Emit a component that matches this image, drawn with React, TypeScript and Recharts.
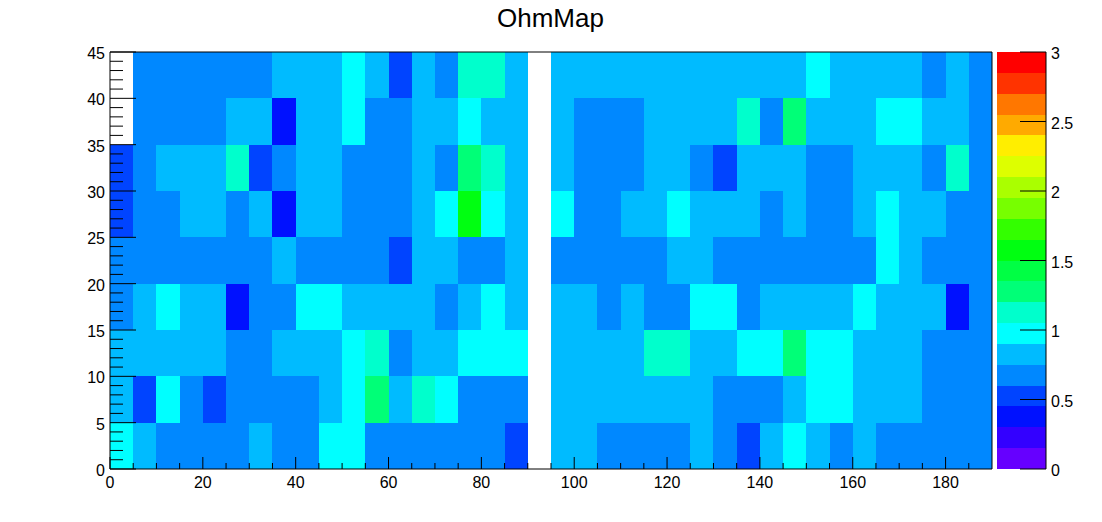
import { BarChart, Bar, Cell, XAxis, YAxis, ReferenceLine } from "recharts";

// palette colours, bottom to top of the z scale (20 contours between 0 and 3)
const PALETTE = [
  "#6600ff", "#3300ff", "#0011ff", "#0044ff", "#0088ff",
  "#00bbff", "#00ffff", "#00ffcc", "#00ff77", "#00ff44",
  "#00ff11", "#33ff00", "#77ff00", "#aaff00", "#ddff00",
  "#ffee00", "#ffaa00", "#ff7700", "#ff3300", "#ff0000",
];
const Z_MAX = 3;

const xBins = Array.from({ length: 38 }, (_, i) => i * 5);
const yLow = [0, 5, 10, 15, 20, 25, 30, 35, 40];
const xTicks = Array.from({ length: 38 }, (_, i) => i * 5);
const yTicks = Array.from({ length: 46 }, (_, i) => i);
const zTicks = [0, 0.5, 1, 1.5, 2, 2.5, 3];

// ohm values per y bin, one entry per x bin. null = empty bin
const y0 = [0.97, 0.82, 0.68, 0.68, 0.68, 0.68, 0.82, 0.68, 0.68, 0.97, 0.97, 0.68, 0.68, 0.68, 0.68, 0.68, 0.68, 0.52, null, 0.82, 0.82, 0.68, 0.68, 0.68, 0.68, 0.82, 0.68, 0.52, 0.82, 0.97, 0.82, 0.68, 0.82, 0.68, 0.68, 0.68, 0.68, 0.68];
const y5 = [0.82, 0.52, 0.97, 0.68, 0.52, 0.68, 0.68, 0.68, 0.68, 0.82, 0.97, 1.28, 0.82, 1.12, 0.97, 0.68, 0.68, 0.68, null, 0.82, 0.82, 0.82, 0.82, 0.82, 0.82, 0.82, 0.68, 0.68, 0.68, 0.82, 0.97, 0.97, 0.82, 0.82, 0.82, 0.68, 0.68, 0.68];
const y10 = [0.82, 0.82, 0.82, 0.82, 0.82, 0.68, 0.68, 0.82, 0.82, 0.82, 0.97, 1.12, 0.68, 0.82, 0.82, 0.97, 0.97, 0.97, null, 0.82, 0.82, 0.82, 0.82, 1.12, 1.12, 0.82, 0.82, 0.97, 0.97, 1.28, 0.97, 0.97, 0.82, 0.82, 0.82, 0.68, 0.68, 0.68];
const y15 = [0.68, 0.82, 0.97, 0.82, 0.82, 0.37, 0.68, 0.68, 0.97, 0.97, 0.82, 0.82, 0.82, 0.82, 0.68, 0.82, 0.97, 0.82, null, 0.82, 0.82, 0.68, 0.82, 0.68, 0.68, 0.97, 0.97, 0.68, 0.82, 0.82, 0.82, 0.82, 0.97, 0.82, 0.82, 0.82, 0.37, 0.68];
const y20 = [0.68, 0.68, 0.68, 0.68, 0.68, 0.68, 0.68, 0.82, 0.68, 0.68, 0.68, 0.68, 0.52, 0.82, 0.82, 0.68, 0.68, 0.82, null, 0.68, 0.68, 0.68, 0.68, 0.68, 0.82, 0.82, 0.68, 0.68, 0.68, 0.68, 0.68, 0.68, 0.68, 0.97, 0.82, 0.68, 0.68, 0.68];
const y25 = [0.52, 0.68, 0.68, 0.82, 0.82, 0.68, 0.82, 0.37, 0.82, 0.82, 0.68, 0.68, 0.68, 0.82, 0.97, 1.55, 0.97, 0.82, null, 0.97, 0.68, 0.68, 0.82, 0.82, 0.97, 0.82, 0.82, 0.82, 0.68, 0.82, 0.68, 0.68, 0.82, 0.97, 0.82, 0.82, 0.68, 0.68];
const y30 = [0.52, 0.68, 0.82, 0.82, 0.82, 1.12, 0.52, 0.68, 0.82, 0.82, 0.68, 0.68, 0.68, 0.82, 0.68, 1.28, 1.12, 0.82, null, 0.82, 0.68, 0.68, 0.68, 0.82, 0.82, 0.68, 0.52, 0.82, 0.82, 0.82, 0.68, 0.68, 0.82, 0.82, 0.82, 0.68, 1.12, 0.68];
const y35 = [null, 0.68, 0.68, 0.68, 0.68, 0.82, 0.82, 0.37, 0.82, 0.82, 0.97, 0.68, 0.68, 0.82, 0.82, 0.97, 0.82, 0.82, null, 0.82, 0.68, 0.68, 0.68, 0.82, 0.82, 0.82, 0.82, 1.12, 0.68, 1.28, 0.82, 0.82, 0.82, 0.97, 0.97, 0.82, 0.82, 0.68];
const y40 = [null, 0.68, 0.68, 0.68, 0.68, 0.68, 0.68, 0.82, 0.82, 0.82, 0.97, 0.82, 0.52, 0.82, 0.68, 1.12, 1.12, 0.82, null, 0.82, 0.82, 0.82, 0.82, 0.82, 0.82, 0.82, 0.82, 0.82, 0.82, 0.82, 0.97, 0.82, 0.82, 0.82, 0.82, 0.68, 0.82, 0.68];

const rows = [y0, y5, y10, y15, y20, y25, y30, y35, y40];

// every bin is one stacked segment 5 units tall
const heatData = xBins.map((x) => {
  const d: Record<string, number> = { x };
  yLow.forEach((y) => {
    d[`y${y}`] = 5;
  });
  return d;
});

const zLevels = PALETTE.map((_, i) => i);
const zData = [
  {
    name: "z",
    ...Object.fromEntries(zLevels.map((l) => [`l${l}`, Z_MAX / PALETTE.length])),
  },
];

const FONT = "'Liberation Sans', Arial, sans-serif";
const COL_WIDTH = 881 / 38;

function colorFor(v: number | null) {
  if (v === null) return "none";
  return PALETTE[Math.floor((v / Z_MAX) * PALETTE.length)];
}

function XTick({ x, y, payload }: any) {
  const major = payload.value % 20 === 0;
  return (
    <g>
      <line x1={x} x2={x} y1={y} y2={y - (major ? 12 : 6)} stroke="#000" />
      {major && (
        <text x={x} y={y + 19} textAnchor="middle" fontSize={16} fontFamily={FONT} fill="#000">
          {payload.value}
        </text>
      )}
    </g>
  );
}

function YTick({ x, y, payload }: any) {
  const major = payload.value % 5 === 0;
  return (
    <g>
      <line x1={x} x2={x + (major ? 26 : 13)} y1={y} y2={y} stroke="#000" />
      {major && (
        <text x={x - 5} y={y + 7} textAnchor="end" fontSize={16} fontFamily={FONT} fill="#000">
          {payload.value}
        </text>
      )}
    </g>
  );
}

function ZTick({ x, y, payload }: any) {
  return (
    <g>
      <line x1={x - 26} x2={x} y1={y} y2={y} stroke="#000" />
      <text x={x + 5} y={y + 7} textAnchor="start" fontSize={16} fontFamily={FONT} fill="#000">
        {payload.value}
      </text>
    </g>
  );
}

export default function App() {
  return (
    <div style={{ position: "absolute", left: 0, top: 0, width: 1102, height: 522, background: "#fff" }}>
      <div
        style={{
          position: "absolute",
          left: 0,
          top: 3,
          width: 1101,
          textAlign: "center",
          fontFamily: FONT,
          fontSize: 26,
          lineHeight: "30px",
        }}
      >
        OhmMap
      </div>

      <div style={{ position: "absolute", left: 0, top: 0 }}>
        <BarChart
          width={1102}
          height={522}
          data={heatData}
          barCategoryGap={0}
          barGap={0}
          margin={{ top: 52, right: 110, bottom: 23, left: 50 }}
        >
          <ReferenceLine yAxisId="y" y={45} xAxisId="ticks" stroke="#000" />
          <ReferenceLine yAxisId="y" x={190} xAxisId="ticks" stroke="#000" />
          {rows.map((row, r) => (
            <Bar
              key={yLow[r]}
              dataKey={`y${yLow[r]}`}
              stackId="bins"
              xAxisId="bins"
              yAxisId="y"
              barSize={COL_WIDTH}
              shapeRendering="crispEdges"
              isAnimationActive={false}
            >
              {row.map((v, i) => (
                <Cell key={i} fill={colorFor(v)} />
              ))}
            </Bar>
          ))}
          <XAxis xAxisId="bins" dataKey="x" type="category" hide height={0} />
          <XAxis
            xAxisId="ticks"
            dataKey="x"
            type="number"
            domain={[0, 190]}
            allowDataOverflow
            ticks={xTicks}
            interval={0}
            height={30}
            tickSize={0}
            tickMargin={0}
            tickLine={false}
            tick={XTick}
            axisLine={{ stroke: "#000" }}
          />
          <YAxis
            yAxisId="y"
            type="number"
            domain={[0, 45]}
            ticks={yTicks}
            interval={0}
            width={60}
            tickSize={0}
            tickMargin={0}
            tickLine={false}
            tick={YTick}
            axisLine={{ stroke: "#000" }}
          />
        </BarChart>
      </div>

      {/* z palette strip */}
      <div style={{ position: "absolute", left: 997, top: 0 }}>
        <BarChart
          width={49}
          height={522}
          data={zData}
          barCategoryGap={0}
          barGap={0}
          margin={{ top: 52, right: 0, bottom: 53, left: 0 }}
        >
          {zLevels.map((l) => (
            <Bar
              key={l}
              dataKey={`l${l}`}
              stackId="z"
              xAxisId="strip"
              yAxisId="zAxis"
              fill={PALETTE[l]}
              shapeRendering="crispEdges"
              isAnimationActive={false}
            />
          ))}
          <XAxis xAxisId="strip" dataKey="name" type="category" hide height={0} />
          <YAxis yAxisId="zAxis" type="number" domain={[0, Z_MAX]} hide width={0} />
        </BarChart>
      </div>

      {/* z axis on top of the strip */}
      <div style={{ position: "absolute", left: 997, top: 0 }}>
        <BarChart
          width={105}
          height={522}
          data={zData}
          margin={{ top: 52, right: 0, bottom: 53, left: 0 }}
        >
          <Bar
            dataKey="l0"
            xAxisId="strip"
            yAxisId="zAxis"
            fill="none"
            isAnimationActive={false}
          />
          <XAxis xAxisId="strip" dataKey="name" type="category" hide height={0} />
          <YAxis
            yAxisId="zAxis"
            orientation="right"
            type="number"
            domain={[0, Z_MAX]}
            ticks={zTicks}
            interval={0}
            width={56}
            tickSize={0}
            tickMargin={0}
            tickLine={false}
            tick={ZTick}
            axisLine={{ stroke: "#000" }}
          />
        </BarChart>
      </div>
    </div>
  );
}
